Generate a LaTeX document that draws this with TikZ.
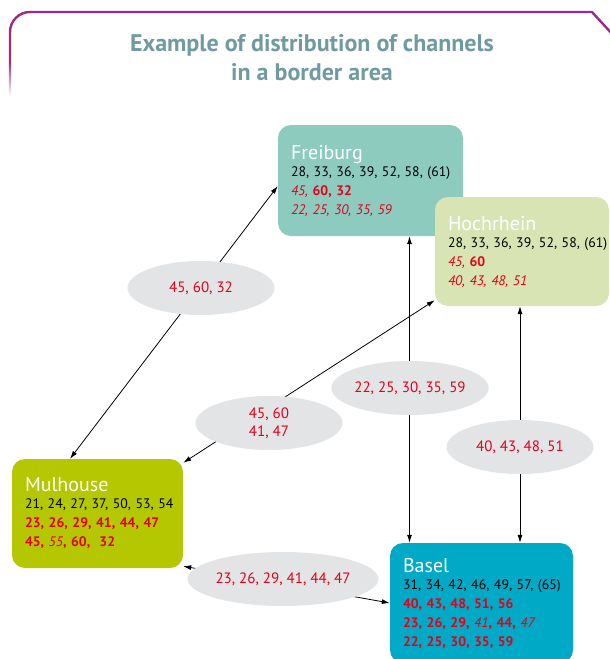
\documentclass[tikz,border=0pt]{standalone}
\usepackage{fontspec}
\setmainfont{PT Sans}
\usetikzlibrary{arrows.meta,positioning,shapes.geometric}
\definecolor{FrameLila}{HTML}{9C2A87}
\definecolor{TitleGrey}{HTML}{6F9AA1}
\definecolor{ChanRed}{HTML}{E3001B}
\definecolor{OvalGrey}{HTML}{E3E4E6}
\definecolor{FreiburgTeal}{HTML}{8DCBBF}
\definecolor{HochrheinGreen}{HTML}{D8E4B4}
\definecolor{MulhouseGreen}{HTML}{B4C700}
\definecolor{BaselBlue}{HTML}{00A9C5}
\newcommand{\redb}[1]{{\color{ChanRed}\bfseries #1}}
\newcommand{\redi}[1]{{\color{ChanRed}\itshape #1}}
\newcommand{\chlist}[1]{\mbox{#1}}
\newcommand{\cityname}[1]{{\color{white}\fontsize{20}{19}\selectfont #1}\\[-2pt]}
\tikzset{
  area/.style={rounded corners=13pt, inner xsep=13pt, inner ysep=0pt, align=left, font=\fontsize{13.8}{19}\selectfont},
  chan/.style={ellipse, fill=OvalGrey, minimum width=147pt, minimum height=54pt, inner sep=0pt, align=center, text=ChanRed, font=\fontsize{15}{18}\selectfont},
  link/.style={{Latex[length=8pt,width=5pt]}-{Latex[length=8pt,width=5pt]}, line width=0.8pt},
  borderline/.style={FrameLila, line width=2.4pt},
  heading/.style={TitleGrey, font=\bfseries\fontsize{24}{29}\selectfont, align=center}
}

\begin{document}
\begin{tikzpicture}[x=1pt,y=-1pt]
\useasboundingbox (0,0) rectangle (610,659);
% frame
\draw[borderline] (10,62) -- (10,32) arc[start angle=180, end angle=270, radius=20] -- (592,12) -- (614,36);
\shade[top color=FrameLila, bottom color=white] (8.8,62) rectangle (11.2,96);
\node[heading] (title) at (312,58) {Example of distribution of channels\\in a border area};

% areas
\node[area, fill=FreiburgTeal, text width=159pt, minimum height=111pt] (freiburg) at (370.5,180.5)
  {\cityname{Freiburg}\chlist{28, 33, 36, 39, 52, 58, (61)}\\\redi{45,} \redb{60, 32}\\\redi{22, 25, 30, 35, 59}};
\node[area, fill=HochrheinGreen, text width=148pt, minimum height=109pt] (hochrhein) at (522,251.5)
  {\cityname{Hochrhein}\chlist{28, 33, 36, 39, 52, 58, (61)}\\\redi{45,} \redb{60}\\\redi{40, 43, 48, 51}};
\node[area, fill=MulhouseGreen, text width=145pt, minimum height=109pt] (mulhouse) at (97.5,513.5)
  {\cityname{Mulhouse}\chlist{21, 24, 27, 37, 50, 53, 54}\\\redb{23, 26, 29, 41, 44, 47}\\\redb{45}\redb{,} \redi{55}\redb{,} \redb{60,}\ \ \redb{32}};
\node[area, fill=BaselBlue, text width=157pt, minimum height=120pt] (basel) at (481.5,603)
  {\cityname{Basel}\chlist{31, 34, 42, 46, 49, 57, (65)}\\\redb{40, 43, 48, 51, 56}\\\redb{23, 26, 29,} \redi{41}\redb{,} \redb{44,} \redi{47}\\\redb{22, 25, 30, 35, 59}};

% links
\draw[link] ([xshift=-27.5]mulhouse.north) -- ([yshift=-5.5]freiburg.west);
\draw[link] ([yshift=-4]mulhouse.north east) -- ([yshift=6]hochrhein.south west);
\draw[link] ([xshift=39]freiburg.south) -- ([xshift=39]freiburg.south |- basel.north);
\draw[link] ([xshift=-2]hochrhein.south) -- ([xshift=-2]hochrhein.south |- basel.north);
\draw[link] ([yshift=2]mulhouse.south east) -- (basel.west);

% channels on the links
\node[chan] (fm) at (201,288) {45, 60, 32};
\node[chan] (hm) at (269,423) {45, 60\\41, 47};
\node[chan] (fb) at (410,388) {22, 25, 30, 35, 59};
\node[chan] (hb) at (520,447) {40, 43, 48, 51};
\node[chan] (mb) at (283,579) {23, 26, 29, 41, 44, 47};
\end{tikzpicture}
\end{document}
